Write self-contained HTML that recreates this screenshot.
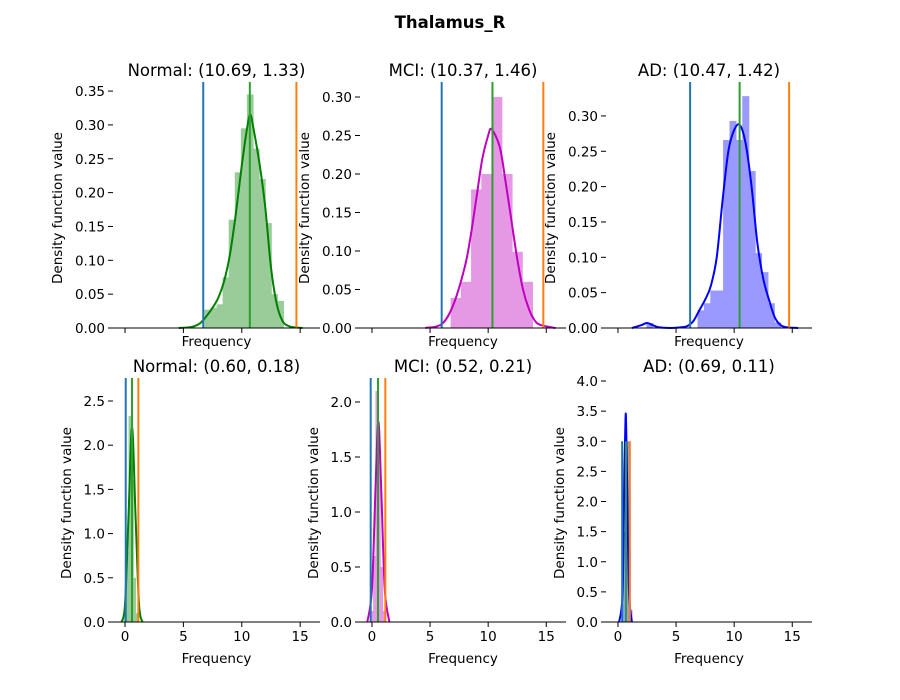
<!DOCTYPE html>
<html><head><meta charset="utf-8"><style>
body{margin:0;background:#fff}
svg{display:block;font-family:"DejaVu Sans","Liberation Sans",sans-serif}
</style></head><body>
<svg id="fig" width="900" height="700" viewBox="0 0 900 700">
<text x="450" y="28" text-anchor="middle" font-size="16.5" font-weight="bold">Thalamus_R</text>
</svg>
<script>
// ---- data ----
const n1BinStart = 6.8, n1BinWidth = 0.52;
const n1Hist = [0.027,0.03,0.035,0.075,0.16,0.23,0.295,0.345,0.265,0.22,0.155,0.05,0.04];
const n1KdeX = [4.6,5.5,6,6.5,7,7.5,8,8.5,9,9.5,10,10.5,10.75,11,11.5,12,12.5,13,13.5,14,14.5,15.2];
const n1KdeY = [0,0.001,0.003,0.008,0.018,0.03,0.045,0.07,0.11,0.17,0.24,0.3,0.315,0.295,0.245,0.18,0.09,0.035,0.01,0.003,0.001,0];
const n1Lines = [6.7,10.69,14.68];

const m1BinStart = 6.77, m1BinWidth = 0.88;
const m1Hist = [0.039,0.06,0.18,0.2,0.30,0.2,0.099,0.06];
const m1KdeX = [4.6,6,7,8,8.5,9,9.5,10,10.3,11,11.5,12,12.5,13,13.5,14,14.5,15.8];
const m1KdeY = [0,0.005,0.03,0.08,0.12,0.17,0.22,0.25,0.258,0.235,0.19,0.14,0.09,0.05,0.025,0.01,0.004,0];
const m1Lines = [6.0,10.37,14.75];

const a1BinStart = 2.45, a1BinWidth = 0.55;
const a1Hist = [0.007,0,0,0,0,0,0,0,0.025,0.035,0.053,0.053,0.266,0.293,0.266,0.328,0.222,0.106,0.079,0.035,0.008];
const a1KdeX = [1.2,2,2.5,3,3.5,4.5,5.5,6,6.5,7,7.5,8,8.5,9,9.5,10,10.5,11,11.5,12,12.5,13,13.5,14,14.5,15.5];
const a1KdeY = [0,0.004,0.007,0.004,0.001,0,0.001,0.003,0.01,0.025,0.04,0.06,0.1,0.18,0.25,0.28,0.287,0.26,0.2,0.12,0.07,0.04,0.015,0.004,0.001,0];
const a1Lines = [6.21,10.47,14.73];

const n2BinStart = -0.1, n2BinWidth = 0.2;
const n2Hist = [0.1,0.8,2.33,1.6,0.5,0.1];
const n2KdeX = [-0.3,0,0.3,0.6,0.9,1.2,1.5];
const n2KdeY = [0,0.2,1.2,2.2,1.2,0.2,0];
const n2Lines = [0.06,0.60,1.14];

const m2BinStart = -0.1, m2BinWidth = 0.2;
const m2Hist = [0.1,0.6,2.1,1.5,0.5,0.1];
const m2KdeX = [-0.4,0,0.3,0.55,0.8,1.1,1.5];
const m2KdeY = [0,0.3,1.2,1.82,1.2,0.3,0];
const m2Lines = [-0.11,0.52,1.15];

const a2BinStart = 0.3, a2BinWidth = 0.15;
const a2Hist = [0.3,1.5,3.0,3.0,1.2,0.2];
const a2KdeX = [0.1,0.4,0.55,0.65,0.7,0.8,0.95,1.2];
const a2KdeY = [0,0.5,2.5,3.37,3.3,2.2,0.5,0];
const a2Lines = [0.36,0.69,1.02];

const xTicks = [0,5,10,15];
const yTicksN1 = [0,0.05,0.1,0.15,0.2,0.25,0.3,0.35];
const yTicksM1 = [0,0.05,0.1,0.15,0.2,0.25,0.3];
const yTicksA1 = [0,0.05,0.1,0.15,0.2,0.25,0.3];
const yTicksN2 = [0,0.5,1,1.5,2,2.5];
const yTicksM2 = [0,0.5,1,1.5,2];
const yTicksA2 = [0,0.5,1,1.5,2,2.5,3,3.5,4];
const titles = ["Normal: (10.69, 1.33)","MCI: (10.37, 1.46)","AD: (10.47, 1.42)","Normal: (0.60, 0.18)","MCI: (0.52, 0.21)","AD: (0.69, 0.11)"];

// ---- drawing ----
const NS="http://www.w3.org/2000/svg";
const svg=document.getElementById('fig');
function mk(tag,attrs,parent){const e=document.createElementNS(NS,tag);for(const k in attrs)e.setAttribute(k,attrs[k]);(parent||svg).appendChild(e);return e;}
const vcol=['#1f77b4','#2ca02c','#ff7f0e'];
const panels=[
 {key:'normal-top',x0:113,x1:320,yT:82,yB:328,ymax:0.3634,bs:n1BinStart,bw:n1BinWidth,h:n1Hist,kx:n1KdeX,ky:n1KdeY,lines:n1Lines,yt:yTicksN1,dec:2,col:'#008000',fill:'#99cc99',xlab:false,title:titles[0],vtop:null},
 {key:'mci-top',x0:360,x1:566,yT:82,yB:328,ymax:0.3195,bs:m1BinStart,bw:m1BinWidth,h:m1Hist,kx:m1KdeX,ky:m1KdeY,lines:m1Lines,yt:yTicksM1,dec:2,col:'#bf00bf',fill:'#e599e5',xlab:false,title:titles[1],vtop:null},
 {key:'ad-top',x0:606,x1:812,yT:82,yB:328,ymax:0.348,bs:a1BinStart,bw:a1BinWidth,h:a1Hist,kx:a1KdeX,ky:a1KdeY,lines:a1Lines,yt:yTicksA1,dec:2,col:'#0000ff',fill:'#9999ff',xlab:false,title:titles[2],vtop:null},
 {key:'normal-bottom',x0:113,x1:320,yT:378,yB:622,ymax:2.76,bs:n2BinStart,bw:n2BinWidth,h:n2Hist,kx:n2KdeX,ky:n2KdeY,lines:n2Lines,yt:yTicksN2,dec:1,col:'#008000',fill:'#99cc99',xlab:true,title:titles[3],vtop:null},
 {key:'mci-bottom',x0:360,x1:566,yT:378,yB:622,ymax:2.218,bs:m2BinStart,bw:m2BinWidth,h:m2Hist,kx:m2KdeX,ky:m2KdeY,lines:m2Lines,yt:yTicksM2,dec:1,col:'#bf00bf',fill:'#e599e5',xlab:true,title:titles[4],vtop:null},
 {key:'ad-bottom',x0:606,x1:812,yT:378,yB:622,ymax:4.05,bs:a2BinStart,bw:a2BinWidth,h:a2Hist,kx:a2KdeX,ky:a2KdeY,lines:a2Lines,yt:yTicksA2,dec:1,col:'#0000ff',fill:'#9999ff',xlab:true,title:titles[5],vtop:3.0}
];
const xmin=-1.03,xmax=16.7;
function smoothPath(pts){
 let d='M'+pts[0][0].toFixed(2)+','+pts[0][1].toFixed(2);
 for(let i=0;i<pts.length-1;i++){
  const p0=pts[Math.max(0,i-1)],p1=pts[i],p2=pts[i+1],p3=pts[Math.min(pts.length-1,i+2)];
  const c1=[p1[0]+(p2[0]-p0[0])/6,p1[1]+(p2[1]-p0[1])/6];
  const c2=[p2[0]-(p3[0]-p1[0])/6,p2[1]-(p3[1]-p1[1])/6];
  d+=' C'+c1[0].toFixed(2)+','+c1[1].toFixed(2)+' '+c2[0].toFixed(2)+','+c2[1].toFixed(2)+' '+p2[0].toFixed(2)+','+p2[1].toFixed(2);
 }
 return d;
}
panels.forEach(p=>{
 const sx=v=>p.x0+(v-xmin)/(xmax-xmin)*(p.x1-p.x0);
 const sy=v=>p.yB-v/p.ymax*(p.yB-p.yT);
 const g=mk('g',{});
 
 
 p.h.forEach((v,i)=>{
  if(v<=0)return;
  const a=sx(p.bs+i*p.bw),b=sx(p.bs+(i+1)*p.bw);
  const r=mk('rect',{x:a,y:sy(v),width:b-a+0.6,height:p.yB-sy(v),fill:p.fill},g);
  
  
 });
 const pts=p.kx.map((x,i)=>[sx(x),sy(p.ky[i])]);
 const kde=mk('path',{d:smoothPath(pts),fill:'none',stroke:p.col,'stroke-width':2},g);
 
 
 p.lines.forEach((v,i)=>{
  const top=p.vtop==null?p.yT:sy(p.vtop);
  const l=mk('line',{x1:sx(v),x2:sx(v),y1:p.yB,y2:top,stroke:vcol[i],'stroke-width':2},g);
  
  
 });
 const ax=mk('line',{x1:p.x0,x2:p.x1,y1:p.yB,y2:p.yB,stroke:'#000','stroke-width':1},g);
 
 
 xTicks.forEach(t=>{
  mk('line',{x1:sx(t),x2:sx(t),y1:p.yB,y2:p.yB+5,stroke:'#000','stroke-width':1},g);
  if(p.xlab){
   const tx=mk('text',{x:sx(t),y:p.yB+19,'text-anchor':'middle','font-size':13.5,fill:'#000'},g);
   tx.textContent=t;
   
   
  }
 });
 p.yt.forEach(t=>{
  mk('line',{x1:p.x0-5,x2:p.x0,y1:sy(t),y2:sy(t),stroke:'#000','stroke-width':1},g);
  const tx=mk('text',{x:p.x0-8,y:sy(t)+5,'text-anchor':'end','font-size':13.5,fill:'#000'},g);
  tx.textContent=t.toFixed(p.dec);
  
  
 });
 const xl=mk('text',{x:(p.x0+p.x1)/2,y:p.yB+(p.xlab?41:18),'text-anchor':'middle','font-size':13.5},g);
 xl.textContent='Frequency';
 
 
 const ylx=p.x0-(p.dec===2?51:42);
 const yl=mk('text',{x:ylx,y:(p.yT+p.yB)/2+3,'text-anchor':'middle','font-size':13.5,transform:'rotate(-90 '+ylx+' '+((p.yT+p.yB)/2+3)+')'},g);
 yl.textContent='Density function value';
 
 
 const ti=mk('text',{x:(p.x0+p.x1)/2,y:p.yT-6,'text-anchor':'middle','font-size':16.5},g);
 ti.textContent=p.title;
 
 
});
</script>
</body></html>
